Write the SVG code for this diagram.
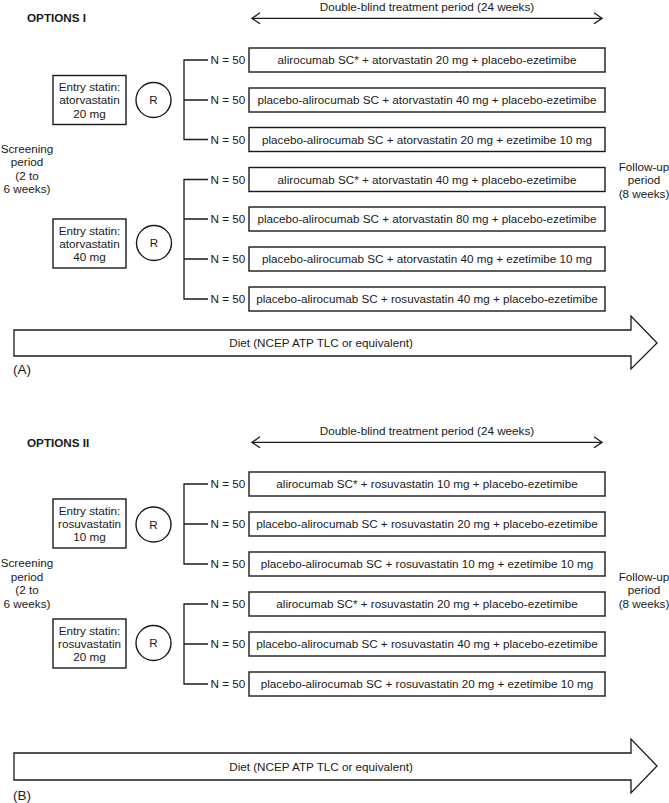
<svg xmlns="http://www.w3.org/2000/svg" width="669" height="803" viewBox="0 0 669 803">
<defs>
<style>
text{font-family:"Liberation Sans",Arial,Helvetica,sans-serif;font-size:11.7px;fill:#1a1a1a}
.c{text-anchor:middle}
.b{font-weight:bold}
.lab{font-size:13.5px}
.box{fill:#fff;stroke:#1a1a1a;stroke-width:1.4}
.ln{fill:none;stroke:#1a1a1a;stroke-width:1.3}
.big{fill:#fff;stroke:#1a1a1a;stroke-width:1.3}
</style>
<marker id="chev" viewBox="0 0 10 12" refX="9" refY="6" markerWidth="10" markerHeight="12" markerUnits="userSpaceOnUse" orient="auto-start-reverse">
<path d="M1,0.5 L9,6 L1,11.5" fill="none" stroke="#1a1a1a" stroke-width="1.3"/>
</marker>
</defs>
<rect width="669" height="803" fill="#fff"/>

<!-- ===== Panel A ===== -->
<g id="panelA-header">
<text x="27" y="21.5" class="b">OPTIONS I</text>
<text x="427" y="10.5" class="c">Double-blind treatment period (24 weeks)</text>
</g>
<g id="connectorsA">
<line class="ln" x1="252" y1="18.3" x2="602" y2="18.3" marker-start="url(#chev)" marker-end="url(#chev)"/>
<path class="ln" d="M208,60 H184 V139.5 H208 M184,100 H208"/>
<path class="ln" d="M208,179.5 H184 V299 H208 M184,219 H208 M184,259 H208"/>
</g>
<g id="screeningA">
<text x="27" y="152.5" class="c">Screening</text>
<text x="27" y="166" class="c">period</text>
<text x="27" y="179.5" class="c">(2 to</text>
<text x="27" y="193" class="c">6 weeks)</text>
</g>
<g id="followupA">
<text x="644" y="171" class="c">Follow-up</text>
<text x="644" y="184.3" class="c">period</text>
<text x="644" y="197.5" class="c">(8 weeks)</text>
</g>
<g id="entryA1">
<rect class="box" x="53" y="75.5" width="73" height="49"/>
<text x="89.5" y="91" class="c">Entry statin:</text>
<text x="89.5" y="104.3" class="c">atorvastatin</text>
<text x="89.5" y="117.6" class="c">20 mg</text>
</g>
<g id="randA1">
<circle class="box" cx="153.5" cy="100" r="17.5"/>
<text x="153.5" y="104.2" class="c">R</text>
</g>
<g id="entryA2">
<rect class="box" x="53" y="219" width="73" height="49"/>
<text x="89.5" y="234.5" class="c">Entry statin:</text>
<text x="89.5" y="247.8" class="c">atorvastatin</text>
<text x="89.5" y="261.1" class="c">40 mg</text>
</g>
<g id="randA2">
<circle class="box" cx="154" cy="243" r="17.5"/>
<text x="154" y="247.2" class="c">R</text>
</g>
<g id="armA1"><text x="210.5" y="64.2">N = 50</text><rect class="box" x="249" y="48" width="356" height="24"/><text x="427" y="64.2" class="c">alirocumab SC* + atorvastatin 20 mg + placebo-ezetimibe</text></g>
<g id="armA2"><text x="210.5" y="104.2">N = 50</text><rect class="box" x="249" y="88" width="356" height="24"/><text x="427" y="104.2" class="c">placebo-alirocumab SC + atorvastatin 40 mg + placebo-ezetimibe</text></g>
<g id="armA3"><text x="210.5" y="143.7">N = 50</text><rect class="box" x="249" y="127.5" width="356" height="24"/><text x="427" y="143.7" class="c">placebo-alirocumab SC + atorvastatin 20 mg + ezetimibe 10 mg</text></g>
<g id="armA4"><text x="210.5" y="183.7">N = 50</text><rect class="box" x="249" y="167.5" width="356" height="24"/><text x="427" y="183.7" class="c">alirocumab SC* + atorvastatin 40 mg + placebo-ezetimibe</text></g>
<g id="armA5"><text x="210.5" y="223.2">N = 50</text><rect class="box" x="249" y="207" width="356" height="24"/><text x="427" y="223.2" class="c">placebo-alirocumab SC + atorvastatin 80 mg + placebo-ezetimibe</text></g>
<g id="armA6"><text x="210.5" y="263.2">N = 50</text><rect class="box" x="249" y="247" width="356" height="24"/><text x="427" y="263.2" class="c">placebo-alirocumab SC + atorvastatin 40 mg + ezetimibe 10 mg</text></g>
<g id="armA7"><text x="210.5" y="303.2">N = 50</text><rect class="box" x="249" y="287" width="356" height="24"/><text x="427" y="303.2" class="c">placebo-alirocumab SC + rosuvastatin 40 mg + placebo-ezetimibe</text></g>
<g id="dietA">
<polygon class="big" points="14,330 631,330 631,316 657,343 631,369 631,356 14,356"/>
<text x="321" y="347.3" class="c">Diet (NCEP ATP TLC or equivalent)</text>
</g>
<text x="13" y="374" class="lab">(A)</text>

<!-- ===== Panel B ===== -->
<g id="panelB-header">
<text x="27" y="446.5" class="b">OPTIONS II</text>
<text x="427" y="434.5" class="c">Double-blind treatment period (24 weeks)</text>
</g>
<g id="connectorsB">
<line class="ln" x1="252" y1="442.3" x2="602" y2="442.3" marker-start="url(#chev)" marker-end="url(#chev)"/>
<path class="ln" d="M208,484 H184 V564 H208 M184,524 H208"/>
<path class="ln" d="M208,604 H184 V684 H208 M184,644 H208"/>
</g>
<g id="screeningB">
<text x="27" y="567" class="c">Screening</text>
<text x="27" y="580.5" class="c">period</text>
<text x="27" y="594" class="c">(2 to</text>
<text x="27" y="607.5" class="c">6 weeks)</text>
</g>
<g id="followupB">
<text x="644" y="581" class="c">Follow-up</text>
<text x="644" y="594.3" class="c">period</text>
<text x="644" y="607.5" class="c">(8 weeks)</text>
</g>
<g id="entryB1">
<rect class="box" x="53" y="499" width="73" height="49"/>
<text x="89.5" y="514.5" class="c">Entry statin:</text>
<text x="89.5" y="527.8" class="c">rosuvastatin</text>
<text x="89.5" y="541.1" class="c">10 mg</text>
</g>
<g id="randB1">
<circle class="box" cx="153.5" cy="524.5" r="17.5"/>
<text x="153.5" y="528.7" class="c">R</text>
</g>
<g id="entryB2">
<rect class="box" x="53" y="619" width="73" height="49"/>
<text x="89.5" y="634.5" class="c">Entry statin:</text>
<text x="89.5" y="647.8" class="c">rosuvastatin</text>
<text x="89.5" y="661.1" class="c">20 mg</text>
</g>
<g id="randB2">
<circle class="box" cx="153.5" cy="643" r="17.5"/>
<text x="153.5" y="647.2" class="c">R</text>
</g>
<g id="armB1"><text x="210.5" y="488.2">N = 50</text><rect class="box" x="249" y="472" width="356" height="24"/><text x="427" y="488.2" class="c">alirocumab SC* + rosuvastatin 10 mg + placebo-ezetimibe</text></g>
<g id="armB2"><text x="210.5" y="528.2">N = 50</text><rect class="box" x="249" y="512" width="356" height="24"/><text x="427" y="528.2" class="c">placebo-alirocumab SC + rosuvastatin 20 mg + placebo-ezetimibe</text></g>
<g id="armB3"><text x="210.5" y="568.2">N = 50</text><rect class="box" x="249" y="552" width="356" height="24"/><text x="427" y="568.2" class="c">placebo-alirocumab SC + rosuvastatin 10 mg + ezetimibe 10 mg</text></g>
<g id="armB4"><text x="210.5" y="608.2">N = 50</text><rect class="box" x="249" y="592" width="356" height="24"/><text x="427" y="608.2" class="c">alirocumab SC* + rosuvastatin 20 mg + placebo-ezetimibe</text></g>
<g id="armB5"><text x="210.5" y="648.2">N = 50</text><rect class="box" x="249" y="632" width="356" height="24"/><text x="427" y="648.2" class="c">placebo-alirocumab SC + rosuvastatin 40 mg + placebo-ezetimibe</text></g>
<g id="armB6"><text x="210.5" y="688.2">N = 50</text><rect class="box" x="249" y="672" width="356" height="24"/><text x="427" y="688.2" class="c">placebo-alirocumab SC + rosuvastatin 20 mg + ezetimibe 10 mg</text></g>
<g id="dietB">
<polygon class="big" points="14,753 631,753 631,739 657,766 631,793 631,780 14,780"/>
<text x="321" y="770.5" class="c">Diet (NCEP ATP TLC or equivalent)</text>
</g>
<text x="13" y="800" class="lab">(B)</text>
</svg>
